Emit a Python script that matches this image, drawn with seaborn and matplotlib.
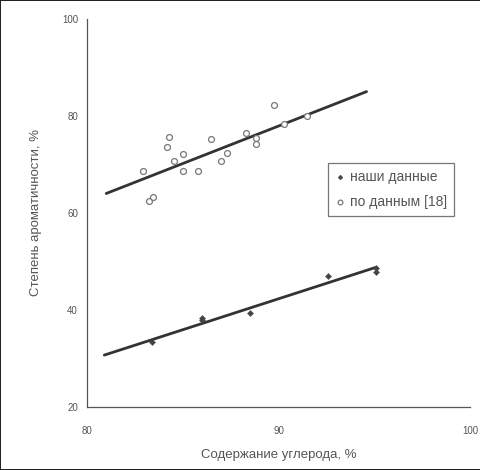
import matplotlib
matplotlib.use("Agg")
import pandas as pd
import seaborn as sns
import matplotlib.pyplot as plt

# наши данные (закрашенные ромбы)
nashi_x = [83.4, 86.0, 86.0, 88.5, 92.6, 95.1, 95.1]
nashi_y = [33.3, 37.9, 38.4, 39.4, 47.0, 47.8, 48.6]

# по данным [18] (пустые кружки)
lit_x = [82.9, 83.25, 83.45, 84.15, 84.3, 84.55, 85.0, 85.0, 85.8, 86.5,
         87.0, 87.3, 88.3, 88.8, 88.8, 89.75, 90.3, 91.5]
lit_y = [68.7, 62.5, 63.3, 73.6, 75.6, 70.7, 72.2, 68.7, 68.7, 75.3,
         70.7, 72.4, 76.5, 75.5, 74.1, 82.2, 78.4, 80.0]

# линии тренда (концы)
trend_lit_x = [81.0, 94.6]
trend_lit_y = [64.0, 85.0]
trend_nashi_x = [80.9, 95.1]
trend_nashi_y = [30.7, 48.8]

df1 = pd.DataFrame({"C": nashi_x, "A": nashi_y})
df2 = pd.DataFrame({"C": lit_x, "A": lit_y})

sns.set_style("white")
plt.rcParams['font.family'] = ['Liberation Sans', 'DejaVu Sans']

fig = plt.figure(figsize=(4.81, 4.70), dpi=100, linewidth=1.2, edgecolor="#222222")
ax = fig.add_axes([0.181, 0.134, 0.796, 0.826])

sns.lineplot(x=trend_lit_x, y=trend_lit_y, color="#333333", linewidth=2, ax=ax)
sns.lineplot(x=trend_nashi_x, y=trend_nashi_y, color="#333333", linewidth=2, ax=ax)

sns.scatterplot(data=df1, x="C", y="A", marker="D", s=10, color="#444444",
                edgecolor="#444444", label="наши данные", ax=ax, zorder=3)
sns.scatterplot(data=df2, x="C", y="A", marker="o", s=18, facecolor="white",
                edgecolor="#777777", linewidth=0.9, label="по данным [18]", ax=ax, zorder=3)

ax.set_xlim(80, 100)
ax.set_ylim(20, 100)
ax.set_xticks([80, 90, 100])
ax.set_yticks([20, 40, 60, 80, 100])
ax.tick_params(axis="both", direction="out", length=3, width=0.8, labelsize=7,
               colors="#555555", labelcolor="#555555")
ax.tick_params(axis="x", pad=11)

sns.despine(ax=ax)
for sp in ["left", "bottom"]:
    ax.spines[sp].set_color("#555555")
    ax.spines[sp].set_linewidth(0.9)

ax.set_xlabel("Содержание углерода, %", fontsize=9.5, color="#555555", labelpad=9)
ax.set_ylabel("Степень ароматичности, %", fontsize=9.5, color="#555555", labelpad=14)

leg = ax.legend(loc="upper left", bbox_to_anchor=(0.629, 0.629), fontsize=10,
                frameon=True, fancybox=False, handletextpad=0.3, handlelength=0.8,
                borderpad=0.5, labelspacing=0.8, labelcolor="#555555",
                markerscale=0.8, borderaxespad=0)
leg.get_frame().set_edgecolor("#555555")
leg.get_frame().set_linewidth(0.9)

fig.savefig("out.png", dpi=100)
